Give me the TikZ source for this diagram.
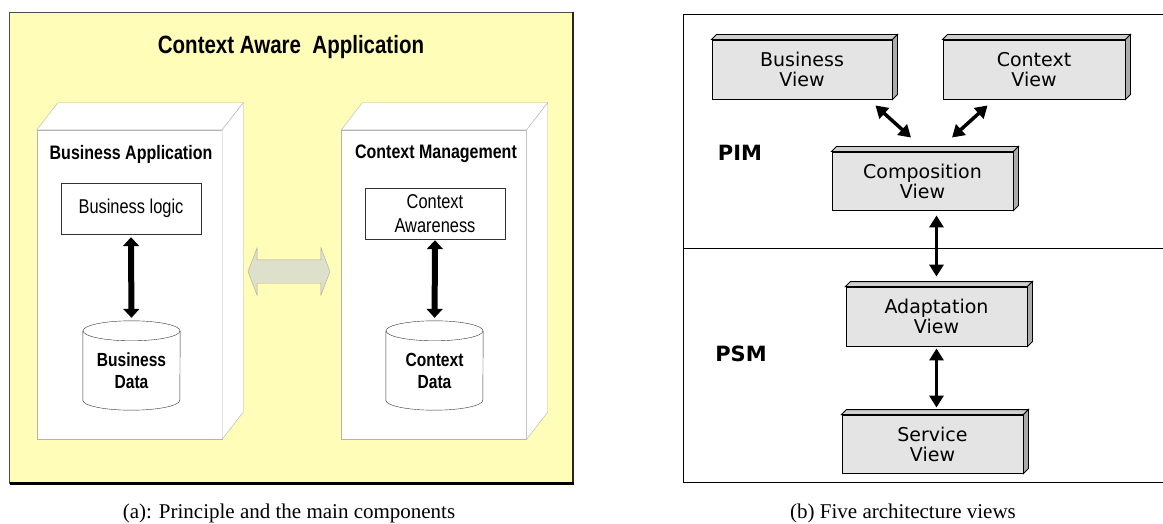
\documentclass[tikz,border=0pt]{standalone}
\usepackage{fontspec}
\setmainfont{Liberation Serif}
\newfontfamily\narrowsans[FakeStretch=0.82]{Liberation Sans}
\newfontfamily\viewsans{DejaVu Sans}
\usetikzlibrary{arrows.meta,calc,shapes.arrows}

\definecolor{appyellow}{HTML}{FFFDB8}
\definecolor{boxgray}{HTML}{B4B4B4}
\definecolor{linkfill}{HTML}{DDE1CB}
\definecolor{linkdraw}{HTML}{A9AB95}
\definecolor{viewface}{HTML}{E4E4E4}
\definecolor{viewtop}{HTML}{CFCFCF}
\definecolor{viewside}{HTML}{ABABAB}

\tikzset{
  tier/.style={draw=boxgray, fill=white, minimum width=185, minimum height=309, inner sep=0},
  tiertitle/.style={font=\narrowsans\bfseries\fontsize{19.5}{22}\selectfont},
  comp/.style={draw=black!80, fill=white, minimum width=140, minimum height=51, inner sep=0,
    align=center, font=\narrowsans\fontsize{20}{24}\selectfont},
  store/.style={minimum width=97, minimum height=79, inner sep=0, align=center,
    font=\narrowsans\bfseries\fontsize{19}{22}\selectfont},
  fatlink/.style={line width=6pt, {Triangle[length=9pt,width=16pt]}-{Triangle[length=9pt,width=16pt]}},
  viewbox/.style={draw=black, line width=0.9pt, fill=viewface, minimum width=181, minimum height=59,
    inner sep=0, align=center, font=\viewsans\fontsize{19}{20}\selectfont},
  viewlink/.style={line width=3.5pt, {Triangle[length=12pt,width=14pt]}-{Triangle[length=12pt,width=14pt]}},
  level/.style={font=\viewsans\bfseries\fontsize{21}{24}\selectfont},
  caption/.style={font=\fontsize{21}{24}\selectfont}
}

\begin{document}
\begin{tikzpicture}[x=1pt, y=-1pt]
  \useasboundingbox (0,0) rectangle (1163,524);

  % ---------- (a) principle ----------
  % yellow frame with shadow on right and bottom
  \draw[draw=black!70, fill=appyellow] (9.6,12) rectangle (573,483);
  \draw[line width=2pt, black!85] (573,12) -- (573,483);
  \draw[line width=3pt] (9.6,483) -- (574,483);

  \node[font=\narrowsans\bfseries\fontsize{25}{28}\selectfont] (apptitle) at (291,47) {Context Aware\ \ Application};

  % the two tiers as open boxes
  \node[tier] (bapp) at (129.5,284.5) {};
  \node[tier] (capp) at (434,284.5) {};
  \foreach \n in {bapp,capp} {
    \draw[draw=boxgray, fill=white] (\n.north west) -- ++(21,-27) -- ($(\n.north east)+(21,-27)$) -- (\n.north east) -- cycle;
    \draw[draw=boxgray, fill=white] (\n.north east) -- ++(21,-27) -- ($(\n.south east)+(21,-27)$) -- (\n.south east) -- cycle;
  }

  \node[tiertitle] (bapptitle) at (131,154) {Business Application};
  \node[tiertitle] (capptitle) at (436,154) {Context Management};

  \node[comp] (blogic) at (131,208.5) {Business logic};
  \node[comp] (caware) at (435,213.5) {Context\\Awareness};

  % data stores (body below the top ellipse)
  \node[store] (bdata) at (131.5,370.5) {Business\\Data};
  \node[store] (cdata) at (434.5,370.5) {Context\\Data};
  \foreach \n in {bdata,cdata} {
    \draw[black!80] (\n.north west) -- ($(\n.south west)+(0,-10)$)
      arc[start angle=180, end angle=0, x radius=48.5, y radius=10] -- (\n.north east);
    \draw[black!80] (\n.north) ellipse[x radius=48.5, y radius=10];
  }

  \draw[fatlink, shorten <=3pt, shorten >=13pt] (blogic.south) -- (bdata.north);
  \draw[fatlink, shorten <=1pt, shorten >=13pt] (caware.south) -- (cdata.north);

  % exchange between the tiers
  \node[double arrow, draw=linkdraw, fill=linkfill, minimum height=82, inner xsep=0, inner ysep=11.5,
    double arrow head extend=12, double arrow tip angle=138] (link) at (289,271.5) {};

  \node[caption] (capa) at (289,513) {(a): Principle and the main components};

  % ---------- (b) views ----------
  \draw[line width=0.9pt] (1163,14) -| (683,482) -- (1163,482);
  \draw[line width=0.9pt] (683,248) -- (1163,248);

  \node[level] (pim) at (740,153) {PIM};
  \node[level] (psm) at (741,354) {PSM};

  \node[viewbox, minimum width=180] (bview) at (802,69.5) {Business\\View};
  \node[viewbox, minimum width=182] (cview) at (1034,69.5) {Context\\View};
  \node[viewbox, minimum height=58] (cmpview) at (922.5,181) {Composition\\View};
  \node[viewbox] (adview) at (936.5,316.5) {Adaptation\\View};
  \node[viewbox, minimum height=58] (svview) at (932.5,444) {Service\\View};
  \foreach \n in {bview,cview,cmpview,adview,svview} {
    \draw[line width=0.9pt, fill=viewtop] (\n.north west) -- ++(5,-5) -- ($(\n.north east)+(5,-5)$) -- (\n.north east) -- cycle;
    \draw[line width=0.9pt, fill=viewside] (\n.north east) -- ++(5,-5) -- ($(\n.south east)+(5,-5)$) -- (\n.south east) -- cycle;
  }

  \draw[viewlink] ($(bview.south east)+(-17,6)$) -- ($(cmpview.north)+(-11.5,-14)$);
  \draw[viewlink] ($(cview.south west)+(45,6)$) -- ($(cmpview.north)+(29.5,-14)$);
  \draw[viewlink, shorten <=5pt, shorten >=10pt] (cmpview.south -| adview.north) -- (adview.north);
  \draw[viewlink, shorten <=2pt, shorten >=7pt] (adview.south) -- (adview.south |- svview.north);

  \node[caption] (capb) at (903,513) {(b) Five architecture views};
\end{tikzpicture}
\end{document}
